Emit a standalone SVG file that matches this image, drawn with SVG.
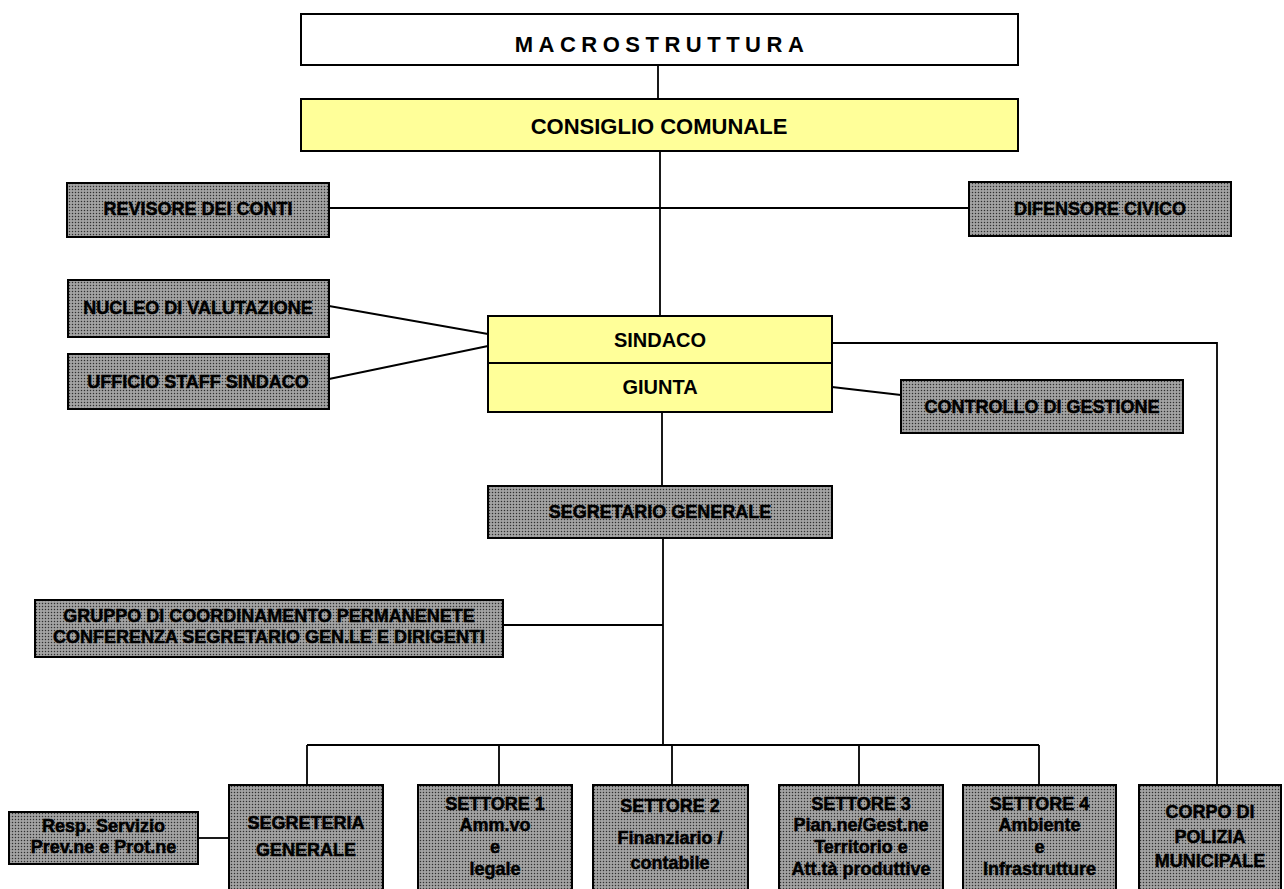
<svg xmlns="http://www.w3.org/2000/svg" width="1284" height="889" viewBox="0 0 1284 889">
<defs>
<pattern id="dots" patternUnits="userSpaceOnUse" width="3" height="3">
<rect width="3" height="3" fill="#929292"/>
<rect x="0" y="0" width="1" height="1" fill="#303030"/>
<rect x="1.5" y="1.5" width="1" height="1" fill="#d8d8d8"/>
</pattern>
</defs>
<style>
.box{stroke:#000;stroke-width:2}
.white{fill:#fff}
.yel{fill:#ffff99}
.grey{fill:url(#dots)}
.t{font-family:"Liberation Sans",Arial,sans-serif;font-weight:bold;text-anchor:middle;fill:#000}
.g{font-size:18px;stroke:#000;stroke-width:0.5}
.y{font-size:20px}
.conn line,.conn polyline{stroke:#000;stroke-width:1.8;fill:none}
</style>
<rect width="1284" height="889" fill="#fff"/>
<g class="conn" id="connectors">
<line x1="658" y1="65" x2="658" y2="99"/>
<line x1="660" y1="151" x2="660" y2="316"/>
<line x1="329" y1="208" x2="969" y2="208"/>
<line x1="329" y1="306" x2="488" y2="334"/>
<line x1="329" y1="379" x2="488" y2="346"/>
<polyline points="832,343 1217,343 1217,785"/>
<line x1="832" y1="387" x2="901" y2="395"/>
<line x1="662" y1="412" x2="662" y2="486"/>
<line x1="663" y1="538" x2="663" y2="745"/>
<line x1="503" y1="625" x2="663" y2="625"/>
<line x1="307" y1="745" x2="1039" y2="745"/>
<line x1="307" y1="745" x2="307" y2="785"/>
<line x1="499" y1="745" x2="499" y2="785"/>
<line x1="672" y1="745" x2="672" y2="785"/>
<line x1="859" y1="745" x2="859" y2="785"/>
<line x1="1039" y1="745" x2="1039" y2="785"/>
<line x1="198" y1="838" x2="229" y2="838"/>
</g>
<g id="macrostruttura">
<rect class="box white" x="301" y="14" width="717" height="51"/>
<text class="t" x="662" y="52" style="font-size:22px;letter-spacing:5.5px">MACROSTRUTTURA</text>
</g>
<g id="consiglio">
<rect class="box yel" x="301" y="99" width="717" height="52"/>
<text class="t" x="659" y="134" style="font-size:22px">CONSIGLIO COMUNALE</text>
</g>
<g id="revisore">
<rect class="box grey" x="67" y="183" width="262" height="54"/>
<text class="t g" x="198" y="215">REVISORE DEI CONTI</text>
</g>
<g id="difensore">
<rect class="box grey" x="969" y="182" width="262" height="54"/>
<text class="t g" x="1100" y="215">DIFENSORE CIVICO</text>
</g>
<g id="nucleo">
<rect class="box grey" x="68" y="280" width="261" height="57"/>
<text class="t g" x="198" y="314">NUCLEO DI VALUTAZIONE</text>
</g>
<g id="ufficio">
<rect class="box grey" x="68" y="354" width="261" height="55"/>
<text class="t g" x="198" y="388">UFFICIO STAFF SINDACO</text>
</g>
<g id="sindaco">
<rect class="box yel" x="488" y="316" width="344" height="47"/>
<text class="t y" x="660" y="347">SINDACO</text>
</g>
<g id="giunta">
<rect class="box yel" x="488" y="363" width="344" height="49"/>
<text class="t y" x="660" y="394">GIUNTA</text>
</g>
<g id="controllo">
<rect class="box grey" x="901" y="380" width="282" height="53"/>
<text class="t g" x="1042" y="413">CONTROLLO DI GESTIONE</text>
</g>
<g id="segretario">
<rect class="box grey" x="488" y="486" width="344" height="52"/>
<text class="t g" x="660" y="518">SEGRETARIO GENERALE</text>
</g>
<g id="gruppo">
<rect class="box grey" x="35" y="600" width="468" height="57"/>
<text class="t g" x="269" y="622">GRUPPO DI COORDINAMENTO PERMANENETE</text>
<text class="t g" x="269" y="643">CONFERENZA SEGRETARIO GEN.LE E DIRIGENTI</text>
</g>
<g id="resp">
<rect class="box grey" x="9" y="812" width="189" height="52"/>
<text class="t g" x="103.5" y="832">Resp. Servizio</text>
<text class="t g" x="103.5" y="853">Prev.ne e Prot.ne</text>
</g>
<g id="segreteria">
<rect class="box grey" x="229" y="785" width="154" height="108"/>
<text class="t g" x="306" y="829">SEGRETERIA</text>
<text class="t g" x="306" y="856">GENERALE</text>
</g>
<g id="settore1">
<rect class="box grey" x="418" y="785" width="154" height="108"/>
<text class="t g" x="495" y="810">SETTORE 1</text>
<text class="t g" x="495" y="831">Amm.vo</text>
<text class="t g" x="495" y="853">e</text>
<text class="t g" x="495" y="875">legale</text>
</g>
<g id="settore2">
<rect class="box grey" x="593" y="785" width="155" height="108"/>
<text class="t g" x="670" y="812">SETTORE 2</text>
<text class="t g" x="670" y="844">Finanziario  /</text>
<text class="t g" x="670" y="869">contabile</text>
</g>
<g id="settore3">
<rect class="box grey" x="779" y="785" width="164" height="108"/>
<text class="t g" x="861" y="810">SETTORE 3</text>
<text class="t g" x="861" y="831">Pian.ne/Gest.ne</text>
<text class="t g" x="861" y="853">Territorio e</text>
<text class="t g" x="861" y="875">Att.tà produttive</text>
</g>
<g id="settore4">
<rect class="box grey" x="963" y="785" width="153" height="108"/>
<text class="t g" x="1039.5" y="810">SETTORE 4</text>
<text class="t g" x="1039.5" y="831">Ambiente</text>
<text class="t g" x="1039.5" y="853">e</text>
<text class="t g" x="1039.5" y="875">Infrastrutture</text>
</g>
<g id="corpo">
<rect class="box grey" x="1139" y="785" width="142" height="108"/>
<text class="t g" x="1210" y="818">CORPO DI</text>
<text class="t g" x="1210" y="843">POLIZIA</text>
<text class="t g" x="1210" y="867">MUNICIPALE</text>
</g>
</svg>
